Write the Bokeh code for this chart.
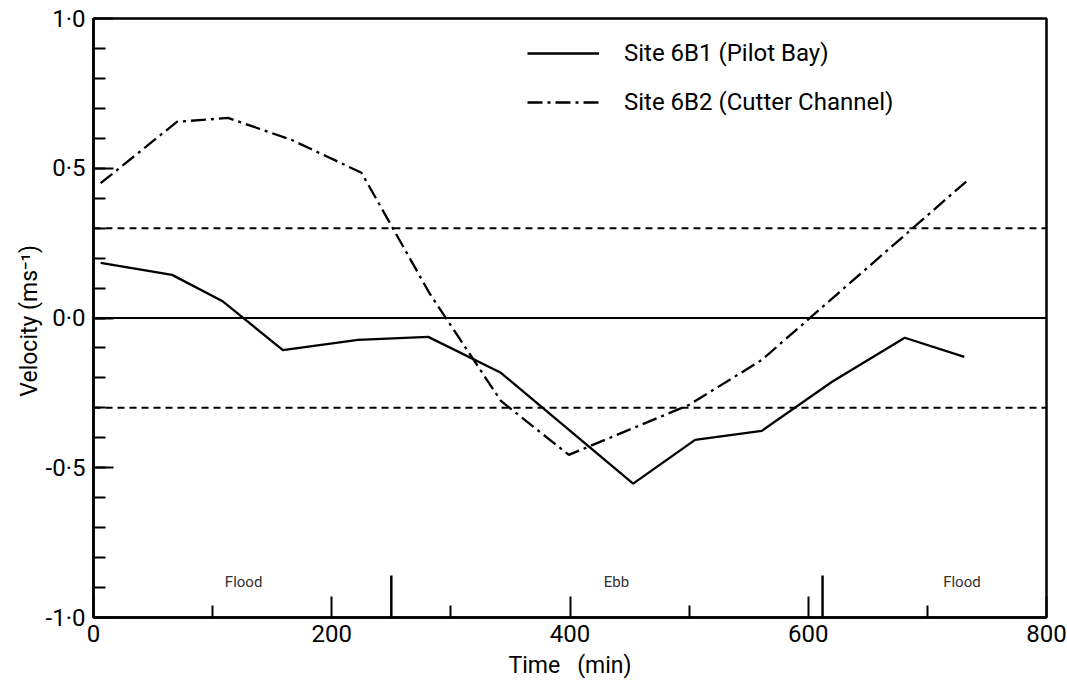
from bokeh.plotting import figure
from bokeh.models import Range1d, FixedTicker, Span, Legend, LegendItem
from bokeh.core.properties import value
from bokeh.embed import file_html
from bokeh.resources import INLINE
import numpy as np

# Site 6B1 (Pilot Bay): time (min), velocity (m/s)
t_6b1 = [6, 66, 108, 159, 222, 281, 342, 453, 505, 561, 620, 681, 731]
v_6b1 = [0.184, 0.144, 0.057, -0.107, -0.073, -0.063, -0.183, -0.553, -0.407, -0.377, -0.213, -0.066, -0.130]

# Site 6B2 (Cutter Channel)
t_6b2 = [6, 70, 113, 166, 225, 282, 342, 399, 500, 561, 733]
v_6b2 = [0.450, 0.655, 0.668, 0.595, 0.485, 0.083, -0.277, -0.457, -0.290, -0.140, 0.457]

# threshold velocities (m/s)
thresholds = [0.3, -0.3]

# tide turning times (min) and phase names
turn_times = [250, 612]
phase_names = ["Flood", "Ebb", "Flood"]
phase_times = [126, 439, 729]

x_labels = {0: "0", 200: "200", 400: "400", 600: "600", 800: "800"}
y_labels = {1: "1·0", 0.5: "0·5", 0: "0·0", -0.5: "-0·5", -1: "-1·0"}

FONT = "Roboto"

p = figure(width=1067, height=686, x_range=Range1d(0, 800), y_range=Range1d(-1, 1),
           output_backend="svg", toolbar_location=None,
           min_border_left=93, min_border_right=21, min_border_top=18, min_border_bottom=69)
p.grid.visible = False
p.background_fill_color = "white"
p.border_fill_color = "white"
p.outline_line_color = "black"
p.outline_line_width = 2.5
p.outline_line_alpha = 1.0

# x axis
p.xaxis.ticker = FixedTicker(ticks=list(x_labels.keys()), minor_ticks=[100, 300, 500, 700])
p.xaxis.major_label_overrides = x_labels
p.xaxis.axis_label = "Time\u00a0\u00a0\u00a0(min)"
for ax in (p.xaxis, p.yaxis):
    ax.axis_line_width = 2.5
    ax.axis_line_color = "black"
    ax.major_tick_out = 0
    ax.minor_tick_out = 0
    ax.major_tick_line_width = 2
    ax.minor_tick_line_width = 2
    ax.major_tick_line_color = "black"
    ax.minor_tick_line_color = "black"
    ax.major_label_text_font = FONT
    ax.major_label_text_font_size = "24px"
    ax.major_label_text_color = "black"
    ax.axis_label_text_font = FONT
    ax.axis_label_text_font_size = "23px"
    ax.axis_label_text_font_style = "normal"
    ax.axis_label_text_color = "black"
p.xaxis.major_tick_in = 21
p.xaxis.minor_tick_in = 12
p.xaxis.major_label_standoff = 7
p.xaxis.axis_label_standoff = 7

# y axis
p.yaxis.ticker = FixedTicker(ticks=list(y_labels.keys()),
                             minor_ticks=[round(v, 1) for v in np.arange(-0.9, 1.0, 0.1)])
p.yaxis.major_label_overrides = y_labels
p.yaxis.axis_label = "Velocity  (ms⁻¹)"
p.yaxis.major_tick_in = 20
p.yaxis.minor_tick_in = 12
p.yaxis.major_label_standoff = 8
p.yaxis.axis_label_standoff = 0

# zero line and threshold lines
p.add_layout(Span(location=0, dimension="width", line_color="black", line_width=2))
for th in thresholds:
    p.add_layout(Span(location=th, dimension="width", line_color="black",
                      line_width=2, line_dash="7 5"))

# tide turning marks on the time axis
p.segment(x0=turn_times, y0=-1, x1=turn_times, y1=-0.86, line_color="black", line_width=2.5)

# phase annotations
p.text(x=phase_times, y=-0.88, text=phase_names, text_align="center", text_baseline="middle",
       text_font=value(FONT), text_font_size="15px", text_color="#333333")

r1 = p.line(t_6b1, v_6b1, line_color="black", line_width=2.3)
r2 = p.line(t_6b2, v_6b2, line_color="black", line_width=2.3, line_dash="15 5 3 5")

legend = Legend(items=[LegendItem(label="Site 6B1 (Pilot Bay)", renderers=[r1]),
                       LegendItem(label="Site 6B2 (Cutter Channel)", renderers=[r2])],
                location=(434, 500), glyph_width=72, glyph_height=30, label_height=30,
                label_standoff=25, spacing=19, padding=0, margin=0,
                border_line_color=None, background_fill_alpha=0,
                label_text_font=FONT, label_text_font_size="24px",
                label_text_color="black")
p.add_layout(legend)

open("out.html", "w").write(file_html(p, INLINE))
